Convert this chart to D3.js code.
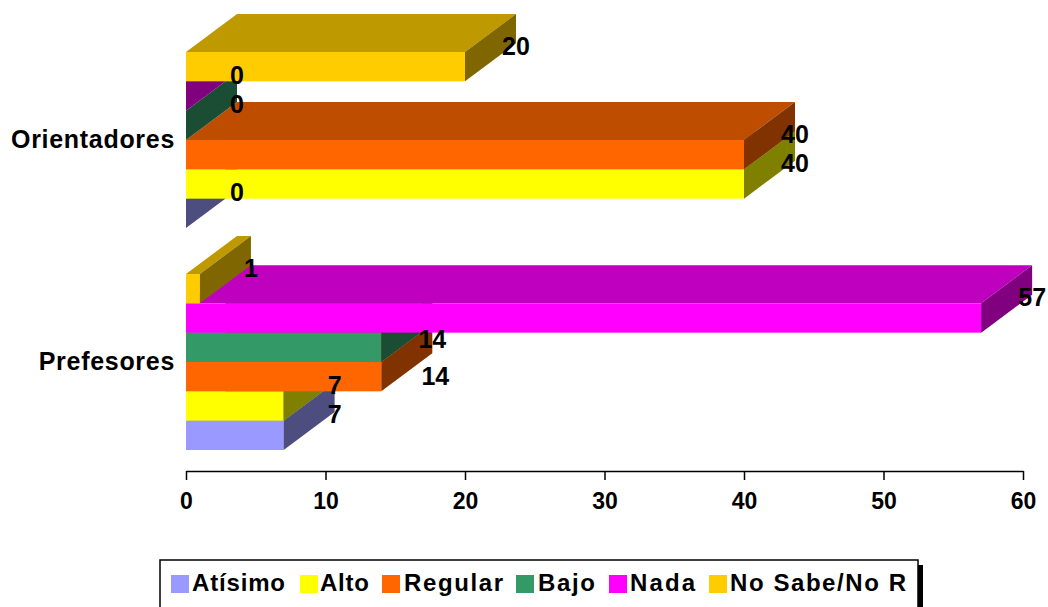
<!DOCTYPE html>
<html><head><meta charset="utf-8">
<script src="https://cdn.jsdelivr.net/npm/d3@7"></script>
<style>html,body{margin:0;padding:0;background:#fff;overflow:hidden}
text{font-family:"Liberation Sans",Arial,sans-serif;font-weight:700;fill:#000}</style></head>
<body><svg id="c" width="1048" height="607"></svg>
<script>
const categories = ["Orientadores", "Prefesores"];
const seriesNames = ["Atísimo", "Alto", "Regular", "Bajo", "Nada", "No Sabe/No R"];
const seriesColors = ["#9999FF", "#FFFF00", "#FF6600", "#339966", "#FF00FF", "#FFCC00"];
const orientadoresValues = [0, 40, 40, 0, 0, 20];
const prefesoresValues = [7, 7, 14, 14, 57, 1];
const tickValues = [0, 10, 20, 30, 40, 50, 60];
const valuesByCategory = { Orientadores: orientadoresValues, Prefesores: prefesoresValues };

const DX = 51, DY = -38;
const svg = d3.select("#c");
const x = d3.scaleLinear().domain([0, 60]).range([186, 1023]);
const y0 = d3.scaleBand().domain(categories).range([29, 473]).paddingInner(0.207).paddingOuter(0.1036);
const y1 = d3.scaleBand().domain(d3.reverse(seriesNames)).range([0, y0.bandwidth()]);
const shade = (c, k) => { const r = d3.rgb(c); return d3.rgb(r.r * k, r.g * k, r.b * k).formatHex(); };
const poly = pts => pts.map(p => p.join(",")).join(" ");

const rows = [];
categories.forEach(cat => seriesNames.forEach((s, i) => rows.push({cat, s, i, v: valuesByCategory[cat][i], color: seriesColors[i]})));

const marks = svg.append("g");
rows.forEach(d => {
  const g = marks.append("g");
  const x0 = x(0), x1 = x(d.v), t = y0(d.cat) + y1(d.s), b = t + y1.bandwidth();
  if (d.v > 0) {
    g.append("polygon").attr("points", poly([[x0, t], [x1, t], [x1 + DX, t + DY], [x0 + DX, t + DY]])).attr("fill", shade(d.color, 0.75));
    g.append("rect").attr("x", x0).attr("y", t).attr("width", x1 - x0).attr("height", b - t).attr("fill", d.color);
  }
  g.append("polygon").attr("points", poly([[x1, t], [x1 + DX, t + DY], [x1 + DX, b + DY], [x1, b]])).attr("fill", shade(d.color, 0.5));
});

// nudges for the two hand-placed labels of the reference
const labelShift = { "Prefesores|Bajo": [0, 13], "Prefesores|Regular": [3, 20] };
const labels = svg.append("g").attr("font-size", 25);
rows.forEach(d => {
  const sh = labelShift[d.cat + "|" + d.s] || [0, 0];
  const cy = y0(d.cat) + y1(d.s) + y1.bandwidth() / 2;
  labels.append("text").attr("x", x(d.v) + DX + sh[0]).attr("y", cy + DY / 2 + sh[1] + 7)
    .attr("text-anchor", "middle").text(d.v);
});

const axis = svg.append("g").attr("transform", "translate(0,471)")
  .call(d3.axisBottom(x).tickValues(tickValues).tickSize(9).tickSizeOuter(0).tickPadding(13));
axis.selectAll("line,path").attr("stroke", "#000").attr("stroke-width", 1.5);
axis.attr("font-family", null);
axis.selectAll("text").attr("font-size", 23);

svg.append("g").selectAll("text").data(categories).join("text")
  .attr("x", 175).attr("y", d => y0(d) + y0.bandwidth() / 2 - 1)
  .attr("text-anchor", "end").attr("dominant-baseline", "central")
  .attr("font-size", 25).style("letter-spacing", "0.7px").text(d => d);

// legend layout of the reference
const legendSwatchX = [171, 300, 382, 516, 609, 709];
const legendTextX = [192, 320, 404, 538, 630, 730];
const legendTextW = [93, 49, 99, 57, 65, 176];
svg.append("rect").attr("x", 918).attr("y", 565).attr("width", 5).attr("height", 42).attr("fill", "#000");
svg.append("rect").attr("x", 160).attr("y", 560).attr("width", 758).attr("height", 60).attr("fill", "#fff").attr("stroke", "#000").attr("stroke-width", 1.5);
seriesNames.forEach((s, i) => {
  svg.append("rect").attr("x", legendSwatchX[i]).attr("y", 575).attr("width", 18).attr("height", 18).attr("fill", seriesColors[i]);
  svg.append("text").attr("x", legendTextX[i]).attr("y", 591).attr("font-size", 24)
    .attr("textLength", legendTextW[i]).attr("lengthAdjust", "spacing").text(s);
});
</script></body></html>
